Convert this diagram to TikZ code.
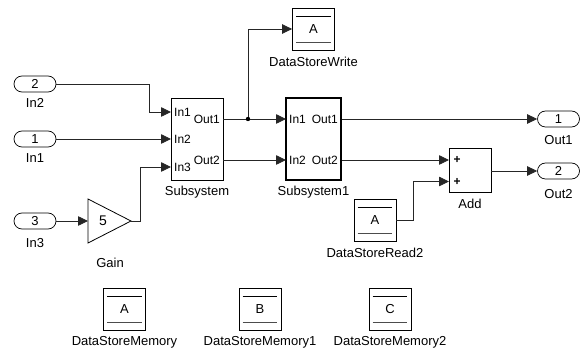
\documentclass[tikz,border=0pt]{standalone}
\usepackage{fontspec}
\setmainfont{Liberation Sans}
\usetikzlibrary{arrows.meta,calc}
\newcommand\dstoreblk[5]{%
  \node[blk, minimum width=42pt, minimum height=42pt] (#1) at (#2,#3) {#4};
  \draw[line width=0.6pt] ($(#1.north west)+(4,8.5)$) -- ($(#1.north east)+(-4,8.5)$);
  \draw[line width=1.6pt, draw=black!70] ($(#1.south west)+(4,-8)$) -- ($(#1.south east)+(-4,-8)$);
  \node[lbl] (#1lbl) at (#2,#3+33) {#5};
}
\begin{document}
\begin{tikzpicture}[x=1pt,y=-1pt,
  wire/.style={draw=black!85, line width=0.8pt},
  arr/.style={wire, -{Triangle[length=10pt,width=9.5pt]}},
  lbl/.style={font=\fontsize{13}{15}\selectfont, inner sep=0pt},
  prt/.style={font=\fontsize{12}{14}\selectfont, inner sep=0pt},
  port/.style={draw, line width=0.7pt, rounded corners=8pt, minimum width=42pt, minimum height=16pt, inner sep=0pt, font=\fontsize{13}{15}\selectfont},
  blk/.style={draw, line width=0.8pt, inner sep=0pt, font=\fontsize{13}{15}\selectfont}
]
\useasboundingbox (0,0) rectangle (583,352);

% inports
\node[port] (in2) at (35,84) {2};
\node[lbl] (in2lbl) at (35,103) {In2};
\node[port] (in1) at (35,139) {1};
\node[lbl] (in1lbl) at (35,158) {In1};
\node[port] (in3) at (35,221) {3};
\node[lbl] (in3lbl) at (35,243) {In3};

% gain
\coordinate (gainin) at (88,221);
\coordinate (gainout) at (131,221);
\draw[line width=0.8pt] (88,199) -- (gainout) -- (88,243) -- cycle;
\node[lbl, font=\fontsize{14}{16}\selectfont] (gaintxt) at (103,221) {5};
\node[lbl] (gainlbl) at (110,263) {Gain};

% subsystem
\node[blk, minimum width=52pt, minimum height=82pt] (sub) at (197,139) {};
\node[prt, anchor=west] (subi1) at (174,112) {In1};
\node[prt, anchor=west] (subi2) at (174,139) {In2};
\node[prt, anchor=west] (subi3) at (174,167) {In3};
\node[prt, anchor=east] (subo1) at (220,119) {Out1};
\node[prt, anchor=east] (subo2) at (220,160) {Out2};
\node[lbl] (sublbl) at (197,192) {Subsystem};
\coordinate (subin1) at (171,112);
\coordinate (subin2) at (171,139);
\coordinate (subin3) at (171,167);
\coordinate (subout1) at (223,119);
\coordinate (subout2) at (223,160);

% subsystem1
\node[blk, line width=2pt, minimum width=55pt, minimum height=82pt] (subB) at (313.5,139) {};
\node[prt, anchor=west] (subBi1) at (289,119) {In1};
\node[prt, anchor=west] (subBi2) at (289,160) {In2};
\node[prt, anchor=east] (subBo1) at (338,119) {Out1};
\node[prt, anchor=east] (subBo2) at (338,160) {Out2};
\node[lbl] (subBlbl) at (313.5,192) {Subsystem1};
\coordinate (subBin1) at (286,119);
\coordinate (subBin2) at (286,160);
\coordinate (subBout1) at (341.5,119);
\coordinate (subBout2) at (341.5,160);

% data stores
\dstoreblk{dsw}{313.5}{29}{A}{DataStoreWrite}
\dstoreblk{dsr}{375}{220}{A}{DataStoreRead2}
\dstoreblk{dsm}{124.5}{309}{A}{DataStoreMemory}
\dstoreblk{dsmB}{260}{309}{B}{DataStoreMemory1}
\dstoreblk{dsmC}{390}{309}{C}{DataStoreMemory2}

% add
\node[blk, minimum width=42pt, minimum height=44pt] (add) at (470,170) {};
\node[prt, font=\bfseries\fontsize{12}{14}\selectfont] (addp1) at (457,160) {+};
\node[prt, font=\bfseries\fontsize{12}{14}\selectfont] (addp2) at (457,181.5) {+};
\node[lbl] (addlbl) at (470,204) {Add};
\coordinate (addin1) at (449,160);
\coordinate (addin2) at (449,181.5);

% outports
\node[port] (out1) at (558.5,119) {1};
\node[lbl] (out1lbl) at (558.5,140) {Out1};
\node[port] (out2) at (558.5,171) {2};
\node[lbl] (out2lbl) at (558.5,194) {Out2};

% wiring
\coordinate (b1) at (149,84);
\coordinate (b3) at (140,221);
\coordinate (j) at (248,119);
\coordinate (jt) at (248,29);
\coordinate (b4) at (413,220);
\coordinate (addout) at (491,171);

\draw[arr] (in2.east) -- (b1) |- (subin1);
\draw[arr] (in1.east) -- (subin2);
\draw[arr] (in3.east) -- (gainin);
\draw[arr] (gainout) -- (b3) |- (subin3);
\draw[wire] (subout1) -- (j);
\draw[arr] (j) -- (subBin1);
\draw[arr] (j) -- (jt) -- (dsw.west);
\fill[black] (j) circle (2.2pt);
\draw[arr] (subout2) -- (subBin2);
\draw[arr] (subBout1) -- (out1.west);
\draw[arr] (subBout2) -- (addin1);
\draw[arr] (dsr.east) -- (b4) |- (addin2);
\draw[arr] (addout) -- (out2.west);
\end{tikzpicture}
\end{document}
